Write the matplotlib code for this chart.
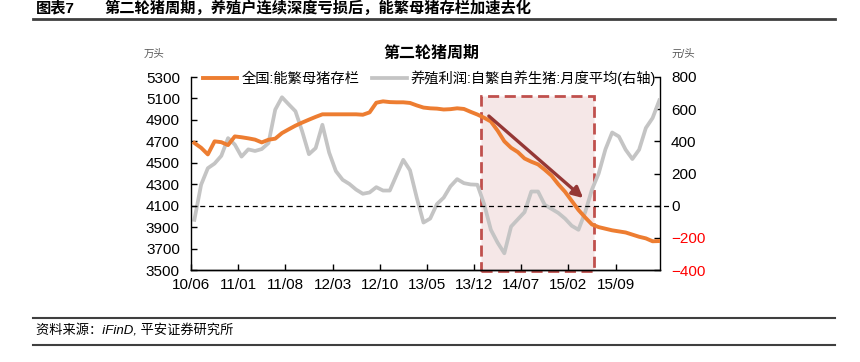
import numpy as np
import matplotlib
matplotlib.use("Agg")
import matplotlib.pyplot as plt
from matplotlib.patches import Rectangle

plt.rcParams["font.family"] = ["Liberation Sans", "Noto Sans CJK SC"]

# 数据（2010/06 起，月度）
TICK_LABELS = ["10/06", "11/01", "11/08", "12/03", "12/10",
               "13/05", "13/12", "14/07", "15/02", "15/09"]

sows = [4685, 4640, 4578, 4700, 4692, 4665, 4746, 4738, 4728, 4716,
        4690, 4715, 4725, 4777, 4812, 4846, 4875, 4902, 4928, 4952,
        4952, 4952, 4952, 4952, 4952, 4948, 4970, 5060, 5073, 5066,
        5064, 5064, 5058, 5035, 5015, 5008, 5005, 4997, 5000, 5008,
        5002, 4975, 4950, 4920, 4885, 4800, 4700, 4640, 4600, 4540,
        4510, 4485, 4435, 4380, 4300, 4230, 4145, 4060, 3990, 3925,
        3900, 3885, 3870, 3860, 3850, 3830, 3810, 3795, 3768, 3770]

profit = [-88, 130, 233, 262, 310, 420, 380, 305, 350, 340,
          352, 389, 597, 674, 630, 587, 462, 320, 358, 503,
          330, 215, 161, 135, 100, 74, 82, 115, 94, 94,
          190, 285, 220, 50, -105, -80, 10, 50, 120, 165,
          140, 132, 130, 10, -150, -230, -296, -130, -85, -40,
          88, 88, 5, -20, -45, -80, -125, -150, -40, 100,
          200, 350, 455, 430, 348, 290, 348, 483, 545, 655]

ORANGE = "#ED7D31"
GRAY = "#C4C4C4"

W, H = 860, 362
fig = plt.figure(figsize=(W / 100, H / 100), dpi=100)


def fx(px):
    return px / W


def fy(py):
    return 1 - py / H


ax2 = fig.add_axes([fx(191), fy(270), fx(660) - fx(191), fy(77) - fy(270)])
ax = ax2.figure.add_axes(ax2.get_position(), sharex=ax2)
ax.set_zorder(ax2.get_zorder() + 1)
ax.patch.set_visible(False)

x = np.arange(len(sows))

# 右轴：养殖利润
ax2.plot(x, profit, color=GRAY, lw=2.7, zorder=3,
         label="养殖利润:自繁自养生猪:月度平均(右轴)")
ax2.set_ylim(-400, 800)
ax2.set_yticks(np.arange(-400, 801, 200))
ax2.yaxis.tick_right()
ax2.yaxis.set_label_position("right")

# 左轴：能繁母猪存栏
ax.plot(x, sows, color=ORANGE, lw=2.8, zorder=4, label="全国:能繁母猪存栏")
ax.set_ylim(3500, 5300)
ax.set_yticks(np.arange(3500, 5301, 200))
ax.set_xlim(-0.5, 69.1)
ax.set_xticks(np.arange(0, len(sows), 7) - 0.5)
ax.set_xticklabels(TICK_LABELS)

# 阴影框
box = Rectangle((42.5, 3490), 59.3 - 42.5, 5123 - 3490, transform=ax.transData,
                facecolor="#F5E7E7", edgecolor="#C0504D", lw=2.0,
                linestyle=(0, (4, 2)), zorder=1, clip_on=False)
ax2.add_patch(box)

# 零线
ax.plot([0, 1.026], [4100, 4100], transform=ax.get_yaxis_transform(),
        color="black", lw=0.9, ls=(0, (4, 3)), clip_on=False, zorder=2)

ax.annotate("", xy=(57.7, 4171), xytext=(43.7, 4936),
            arrowprops=dict(arrowstyle="-|>", color="#953735", lw=2.4,
                            mutation_scale=16, shrinkA=0, shrinkB=0),
            zorder=5)

for a in (ax, ax2):
    a.spines["top"].set_visible(False)
    for s in a.spines.values():
        s.set_linewidth(1.0)
    a.tick_params(direction="in", length=4, width=1, labelsize=11)
ax.spines["right"].set_visible(False)
ax2.spines["left"].set_visible(False)
ax2.tick_params(axis="x", bottom=False, labelbottom=False)
ax.tick_params(axis="y", pad=8)
ax2.tick_params(axis="y", pad=8)
ax.tick_params(axis="x", pad=6)

for lab, v in zip(ax2.get_yticklabels(), np.arange(-400, 801, 200)):
    if v < 0:
        lab.set_color("red")

h1, l1 = ax.get_legend_handles_labels()
h2, l2 = ax2.get_legend_handles_labels()
fig.legend(h1 + h2, l1 + l2, loc="center left", bbox_to_anchor=(fx(203), fy(78)),
           ncol=2, frameon=False, fontsize=10.3, handlelength=2.4,
           handletextpad=0.3, columnspacing=0.9, borderpad=0, borderaxespad=0)

fig.text(fx(431), fy(53), "第二轮猪周期", ha="center", va="center",
         fontsize=11.5, fontweight="bold")
fig.text(fx(144), fy(54), "万头", ha="left", va="center", fontsize=7.5, color="#595959")
fig.text(fx(671), fy(54), "元/头", ha="left", va="center", fontsize=7.5, color="#595959")

# 页眉与页脚
fig.text(fx(36), fy(8), "图表7", ha="left", va="center", fontsize=11, fontweight="bold")
fig.text(fx(104), fy(8), "第二轮猪周期，养殖户连续深度亏损后，能繁母猪存栏加速去化",
         ha="left", va="center", fontsize=11, fontweight="bold")
fig.add_artist(plt.Line2D([fx(33), fx(835)], [fy(19), fy(19)], color="#3F3F3F", lw=2))
fig.add_artist(plt.Line2D([fx(33), fx(835)], [fy(318), fy(318)], color="#3F3F3F", lw=1.5))
fig.add_artist(plt.Line2D([fx(33), fx(835)], [fy(345), fy(345)], color="#3F3F3F", lw=1.5))
fig.text(fx(36), fy(331), "资料来源：iFinD, 平安证券研究所", ha="left", va="center",
         fontsize=9.5, style="italic")

fig.savefig("out.png", dpi=100)
